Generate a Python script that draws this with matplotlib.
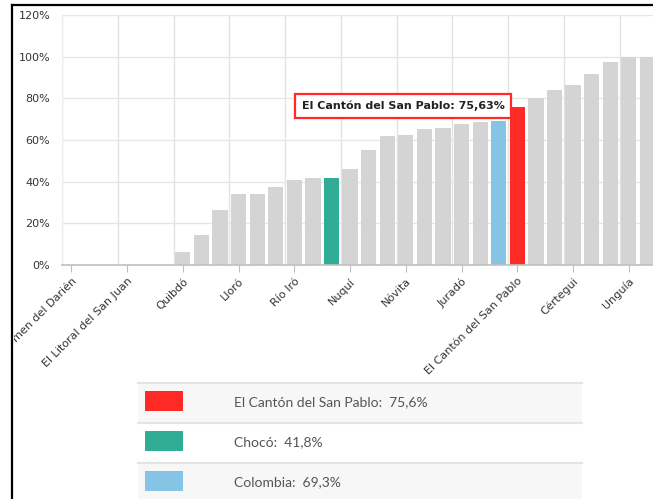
import matplotlib
matplotlib.use("Agg")
import matplotlib.pyplot as plt
from matplotlib.patches import Rectangle
from matplotlib.transforms import Bbox, TransformedBbox

# municipios del Chocó + Chocó + Colombia (solo se ven las etiquetas cada 3 barras)
names = ["Carmen del Darién", "", "", "El Litoral del San Juan", "", "",
         "Quibdó", "", "", "Lloró", "", "", "Río Iró", "", "Chocó",
         "Nuquí", "", "", "Nóvita", "", "", "Juradó", "", "Colombia",
         "El Cantón del San Pablo", "", "", "Cértegui", "", "", "Unguía", ""]
values = [0, 0, 0, 0, 0, 0, 6.4, 14.3, 26.4, 34.3, 34.3, 37.5, 40.9, 41.7, 41.8,
          46.3, 55.1, 61.7, 62.2, 65.1, 66.0, 67.8, 68.8, 69.3, 75.63,
          80.1, 84.1, 86.4, 91.5, 97.3, 100, 100]

highlight = {"El Cantón del San Pablo": "#ff2a26", "Chocó": "#31ac95", "Colombia": "#85c4e4"}
legend_names = ["El Cantón del San Pablo", "Chocó", "Colombia"]
legend_values = [75.6, 41.8, 69.3]

W, H = 653, 499
fig = plt.figure(figsize=(W / 100, H / 100), dpi=100)

# overlay in pixel coords for the frame and the legend table
bg = fig.add_axes([0, 0, 1, 1])
bg.set_xlim(0, W)
bg.set_ylim(H, 0)
bg.axis("off")
bg.plot([12, 12], [5, H + 5], color="black", lw=1.6)
bg.plot([12, W + 5], [5, 5], color="black", lw=1.6)

row_top, row_h = 383, 40
for i, (nm, v) in enumerate(zip(legend_names, legend_values)):
    y0 = row_top + i * row_h
    bg.add_patch(Rectangle((138, y0), 444, row_h, facecolor="#f7f7f7" if i % 2 == 0 else "white",
                           edgecolor="none"))
    bg.plot([138, 582], [y0, y0], color="#e4e4e4", lw=1.5)
    bg.add_patch(Rectangle((145, y0 + 8), 38, 20, facecolor=highlight[nm], edgecolor="none"))
    bg.text(234, y0 + 19, f"{nm}:  {v:.1f}%".replace(".", ","), fontsize=10,
            family=["Lato", "DejaVu Sans"], color="#555555", va="center", ha="left")

ax = fig.add_axes([62 / W, 1 - 265 / H, 1 - 62 / W + 0.002, 250 / H])
x = list(range(len(values)))
colors = [highlight.get(n, "#d4d4d4") for n in names]
ax.bar(x, values, width=0.82, color=colors, zorder=2)

ax.set_ylim(0, 120)
ax.set_xlim(-0.5, 31.37)
ax.set_yticks(range(0, 121, 20))
ax.set_yticklabels([f"{t}%" for t in range(0, 121, 20)], fontsize=8, color="#333333")
ax.grid(axis="y", color="#e6e6e6", lw=1, zorder=0)

lab_idx = x[::3]
ax.set_xticks(lab_idx)
ax.set_xticklabels([names[i] for i in lab_idx], rotation=45, ha="right",
                   rotation_mode="anchor", fontsize=8, color="#333333")
ax.set_xticks([i - 0.5 for i in x[::3]], minor=True)
ax.grid(axis="x", which="minor", color="#e3e3e3", lw=1, zorder=0)
ax.tick_params(axis="x", which="major", length=5, color="#c0c0c0", pad=3)
ax.tick_params(axis="x", which="minor", length=0)
ax.tick_params(axis="y", length=0, pad=8.5)

for s in ["top", "right"]:
    ax.spines[s].set_visible(False)
ax.spines["left"].set_color("#eeeeee")
ax.spines["bottom"].set_color("#c0c0c0")
ax.spines["bottom"].set_linewidth(1.2)

clip = TransformedBbox(Bbox([[14 / W, 0], [1, 1]]), fig.transFigure)
for lbl in ax.get_xticklabels():
    lbl.set_clip_box(clip)
    lbl.set_clip_on(True)

# tooltip on the selected municipality
k = names.index("El Cantón del San Pablo")
ax.text(k - 0.68, values[k] + 0.6, f"{names[k]}: {values[k]:.2f}%".replace(".", ","),
        ha="right", va="center", fontsize=8, fontweight="bold", color="#222222", zorder=5,
        bbox=dict(boxstyle="square,pad=0.6", facecolor="white", edgecolor="#ff2a26", lw=1.6))

fig.savefig("out.png", dpi=100)
